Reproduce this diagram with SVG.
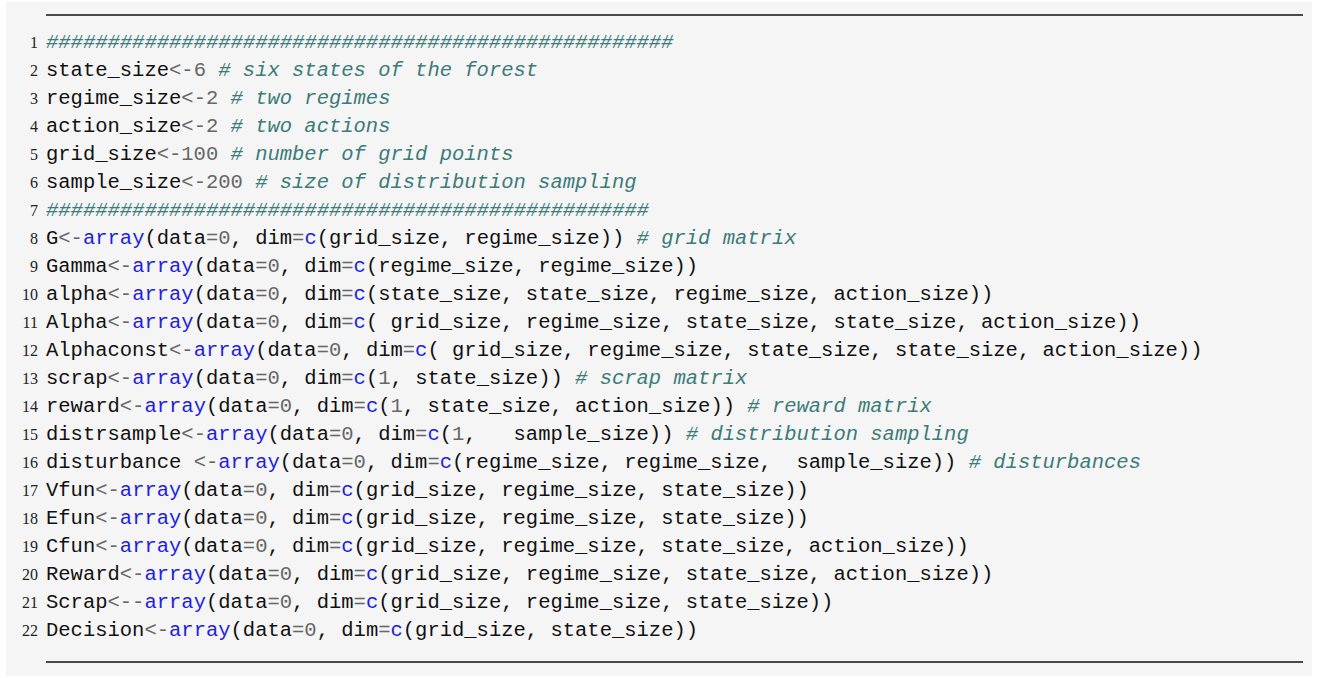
<svg xmlns="http://www.w3.org/2000/svg" width="1317" height="678" viewBox="0 0 1317 678">
<style>
.t{font-family:"Liberation Mono",monospace;font-size:20.5px;fill:#111;white-space:pre}
.c{fill:#3b7b78;font-style:italic}
.k{fill:#1f1fe0}
.n{fill:#666}
.ln{font-family:"Liberation Serif",serif;font-size:16px;fill:#222;text-anchor:end}
</style>
<rect x="6" y="2" width="1306" height="674" fill="#f5f5f5"/>
<line x1="46" y1="15" x2="1303" y2="15" stroke="#111" stroke-width="1.6"/>
<line x1="46" y1="662" x2="1303" y2="662" stroke="#111" stroke-width="1.6"/>
<g id="lines">
<text class="ln" x="38" y="48">1</text><text class="ln" x="38" y="76">2</text><text class="ln" x="38" y="104">3</text><text class="ln" x="38" y="132">4</text><text class="ln" x="38" y="160">5</text><text class="ln" x="38" y="188">6</text><text class="ln" x="38" y="216">7</text><text class="ln" x="38" y="244">8</text><text class="ln" x="38" y="272">9</text><text class="ln" x="38" y="300">10</text><text class="ln" x="38" y="328">11</text><text class="ln" x="38" y="356">12</text><text class="ln" x="38" y="384">13</text><text class="ln" x="38" y="412">14</text><text class="ln" x="38" y="440">15</text><text class="ln" x="38" y="468">16</text><text class="ln" x="38" y="496">17</text><text class="ln" x="38" y="524">18</text><text class="ln" x="38" y="552">19</text><text class="ln" x="38" y="580">20</text><text class="ln" x="38" y="608">21</text><text class="ln" x="38" y="636">22</text>
</g>
<g id="code">
<text class="t" x="46" y="48"><tspan class="c">###################################################</tspan></text>
<text class="t" x="46" y="76">state_size<tspan class="n">&lt;-6</tspan> <tspan class="c"># six states of the forest</tspan></text>
<text class="t" x="46" y="104">regime_size<tspan class="n">&lt;-2</tspan> <tspan class="c"># two regimes</tspan></text>
<text class="t" x="46" y="132">action_size<tspan class="n">&lt;-2</tspan> <tspan class="c"># two actions</tspan></text>
<text class="t" x="46" y="160">grid_size<tspan class="n">&lt;-100</tspan> <tspan class="c"># number of grid points</tspan></text>
<text class="t" x="46" y="188">sample_size<tspan class="n">&lt;-200</tspan> <tspan class="c"># size of distribution sampling</tspan></text>
<text class="t" x="46" y="216"><tspan class="c">#################################################</tspan></text>
<text class="t" x="46" y="244">G<tspan class="n">&lt;-</tspan><tspan class="k">array</tspan>(data<tspan class="n">=0</tspan>, dim<tspan class="n">=</tspan><tspan class="k">c</tspan>(grid_size, regime_size)) <tspan class="c"># grid matrix</tspan></text>
<text class="t" x="46" y="272">Gamma<tspan class="n">&lt;-</tspan><tspan class="k">array</tspan>(data<tspan class="n">=0</tspan>, dim<tspan class="n">=</tspan><tspan class="k">c</tspan>(regime_size, regime_size))</text>
<text class="t" x="46" y="300">alpha<tspan class="n">&lt;-</tspan><tspan class="k">array</tspan>(data<tspan class="n">=0</tspan>, dim<tspan class="n">=</tspan><tspan class="k">c</tspan>(state_size, state_size, regime_size, action_size))</text>
<text class="t" x="46" y="328">Alpha<tspan class="n">&lt;-</tspan><tspan class="k">array</tspan>(data<tspan class="n">=0</tspan>, dim<tspan class="n">=</tspan><tspan class="k">c</tspan>( grid_size, regime_size, state_size, state_size, action_size))</text>
<text class="t" x="46" y="356">Alphaconst<tspan class="n">&lt;-</tspan><tspan class="k">array</tspan>(data<tspan class="n">=0</tspan>, dim<tspan class="n">=</tspan><tspan class="k">c</tspan>( grid_size, regime_size, state_size, state_size, action_size))</text>
<text class="t" x="46" y="384">scrap<tspan class="n">&lt;-</tspan><tspan class="k">array</tspan>(data<tspan class="n">=0</tspan>, dim<tspan class="n">=</tspan><tspan class="k">c</tspan>(<tspan class="n">1</tspan>, state_size)) <tspan class="c"># scrap matrix</tspan></text>
<text class="t" x="46" y="412">reward<tspan class="n">&lt;-</tspan><tspan class="k">array</tspan>(data<tspan class="n">=0</tspan>, dim<tspan class="n">=</tspan><tspan class="k">c</tspan>(<tspan class="n">1</tspan>, state_size, action_size)) <tspan class="c"># reward matrix</tspan></text>
<text class="t" x="46" y="440">distrsample<tspan class="n">&lt;-</tspan><tspan class="k">array</tspan>(data<tspan class="n">=0</tspan>, dim<tspan class="n">=</tspan><tspan class="k">c</tspan>(<tspan class="n">1</tspan>,   sample_size)) <tspan class="c"># distribution sampling</tspan></text>
<text class="t" x="46" y="468">disturbance <tspan class="n">&lt;-</tspan><tspan class="k">array</tspan>(data<tspan class="n">=0</tspan>, dim<tspan class="n">=</tspan><tspan class="k">c</tspan>(regime_size, regime_size,  sample_size)) <tspan class="c"># disturbances</tspan></text>
<text class="t" x="46" y="496">Vfun<tspan class="n">&lt;-</tspan><tspan class="k">array</tspan>(data<tspan class="n">=0</tspan>, dim<tspan class="n">=</tspan><tspan class="k">c</tspan>(grid_size, regime_size, state_size))</text>
<text class="t" x="46" y="524">Efun<tspan class="n">&lt;-</tspan><tspan class="k">array</tspan>(data<tspan class="n">=0</tspan>, dim<tspan class="n">=</tspan><tspan class="k">c</tspan>(grid_size, regime_size, state_size))</text>
<text class="t" x="46" y="552">Cfun<tspan class="n">&lt;-</tspan><tspan class="k">array</tspan>(data<tspan class="n">=0</tspan>, dim<tspan class="n">=</tspan><tspan class="k">c</tspan>(grid_size, regime_size, state_size, action_size))</text>
<text class="t" x="46" y="580">Reward<tspan class="n">&lt;-</tspan><tspan class="k">array</tspan>(data<tspan class="n">=0</tspan>, dim<tspan class="n">=</tspan><tspan class="k">c</tspan>(grid_size, regime_size, state_size, action_size))</text>
<text class="t" x="46" y="608">Scrap<tspan class="n">&lt;--</tspan><tspan class="k">array</tspan>(data<tspan class="n">=0</tspan>, dim<tspan class="n">=</tspan><tspan class="k">c</tspan>(grid_size, regime_size, state_size))</text>
<text class="t" x="46" y="636">Decision<tspan class="n">&lt;-</tspan><tspan class="k">array</tspan>(data<tspan class="n">=0</tspan>, dim<tspan class="n">=</tspan><tspan class="k">c</tspan>(grid_size, state_size))</text>
</g>
</svg>
